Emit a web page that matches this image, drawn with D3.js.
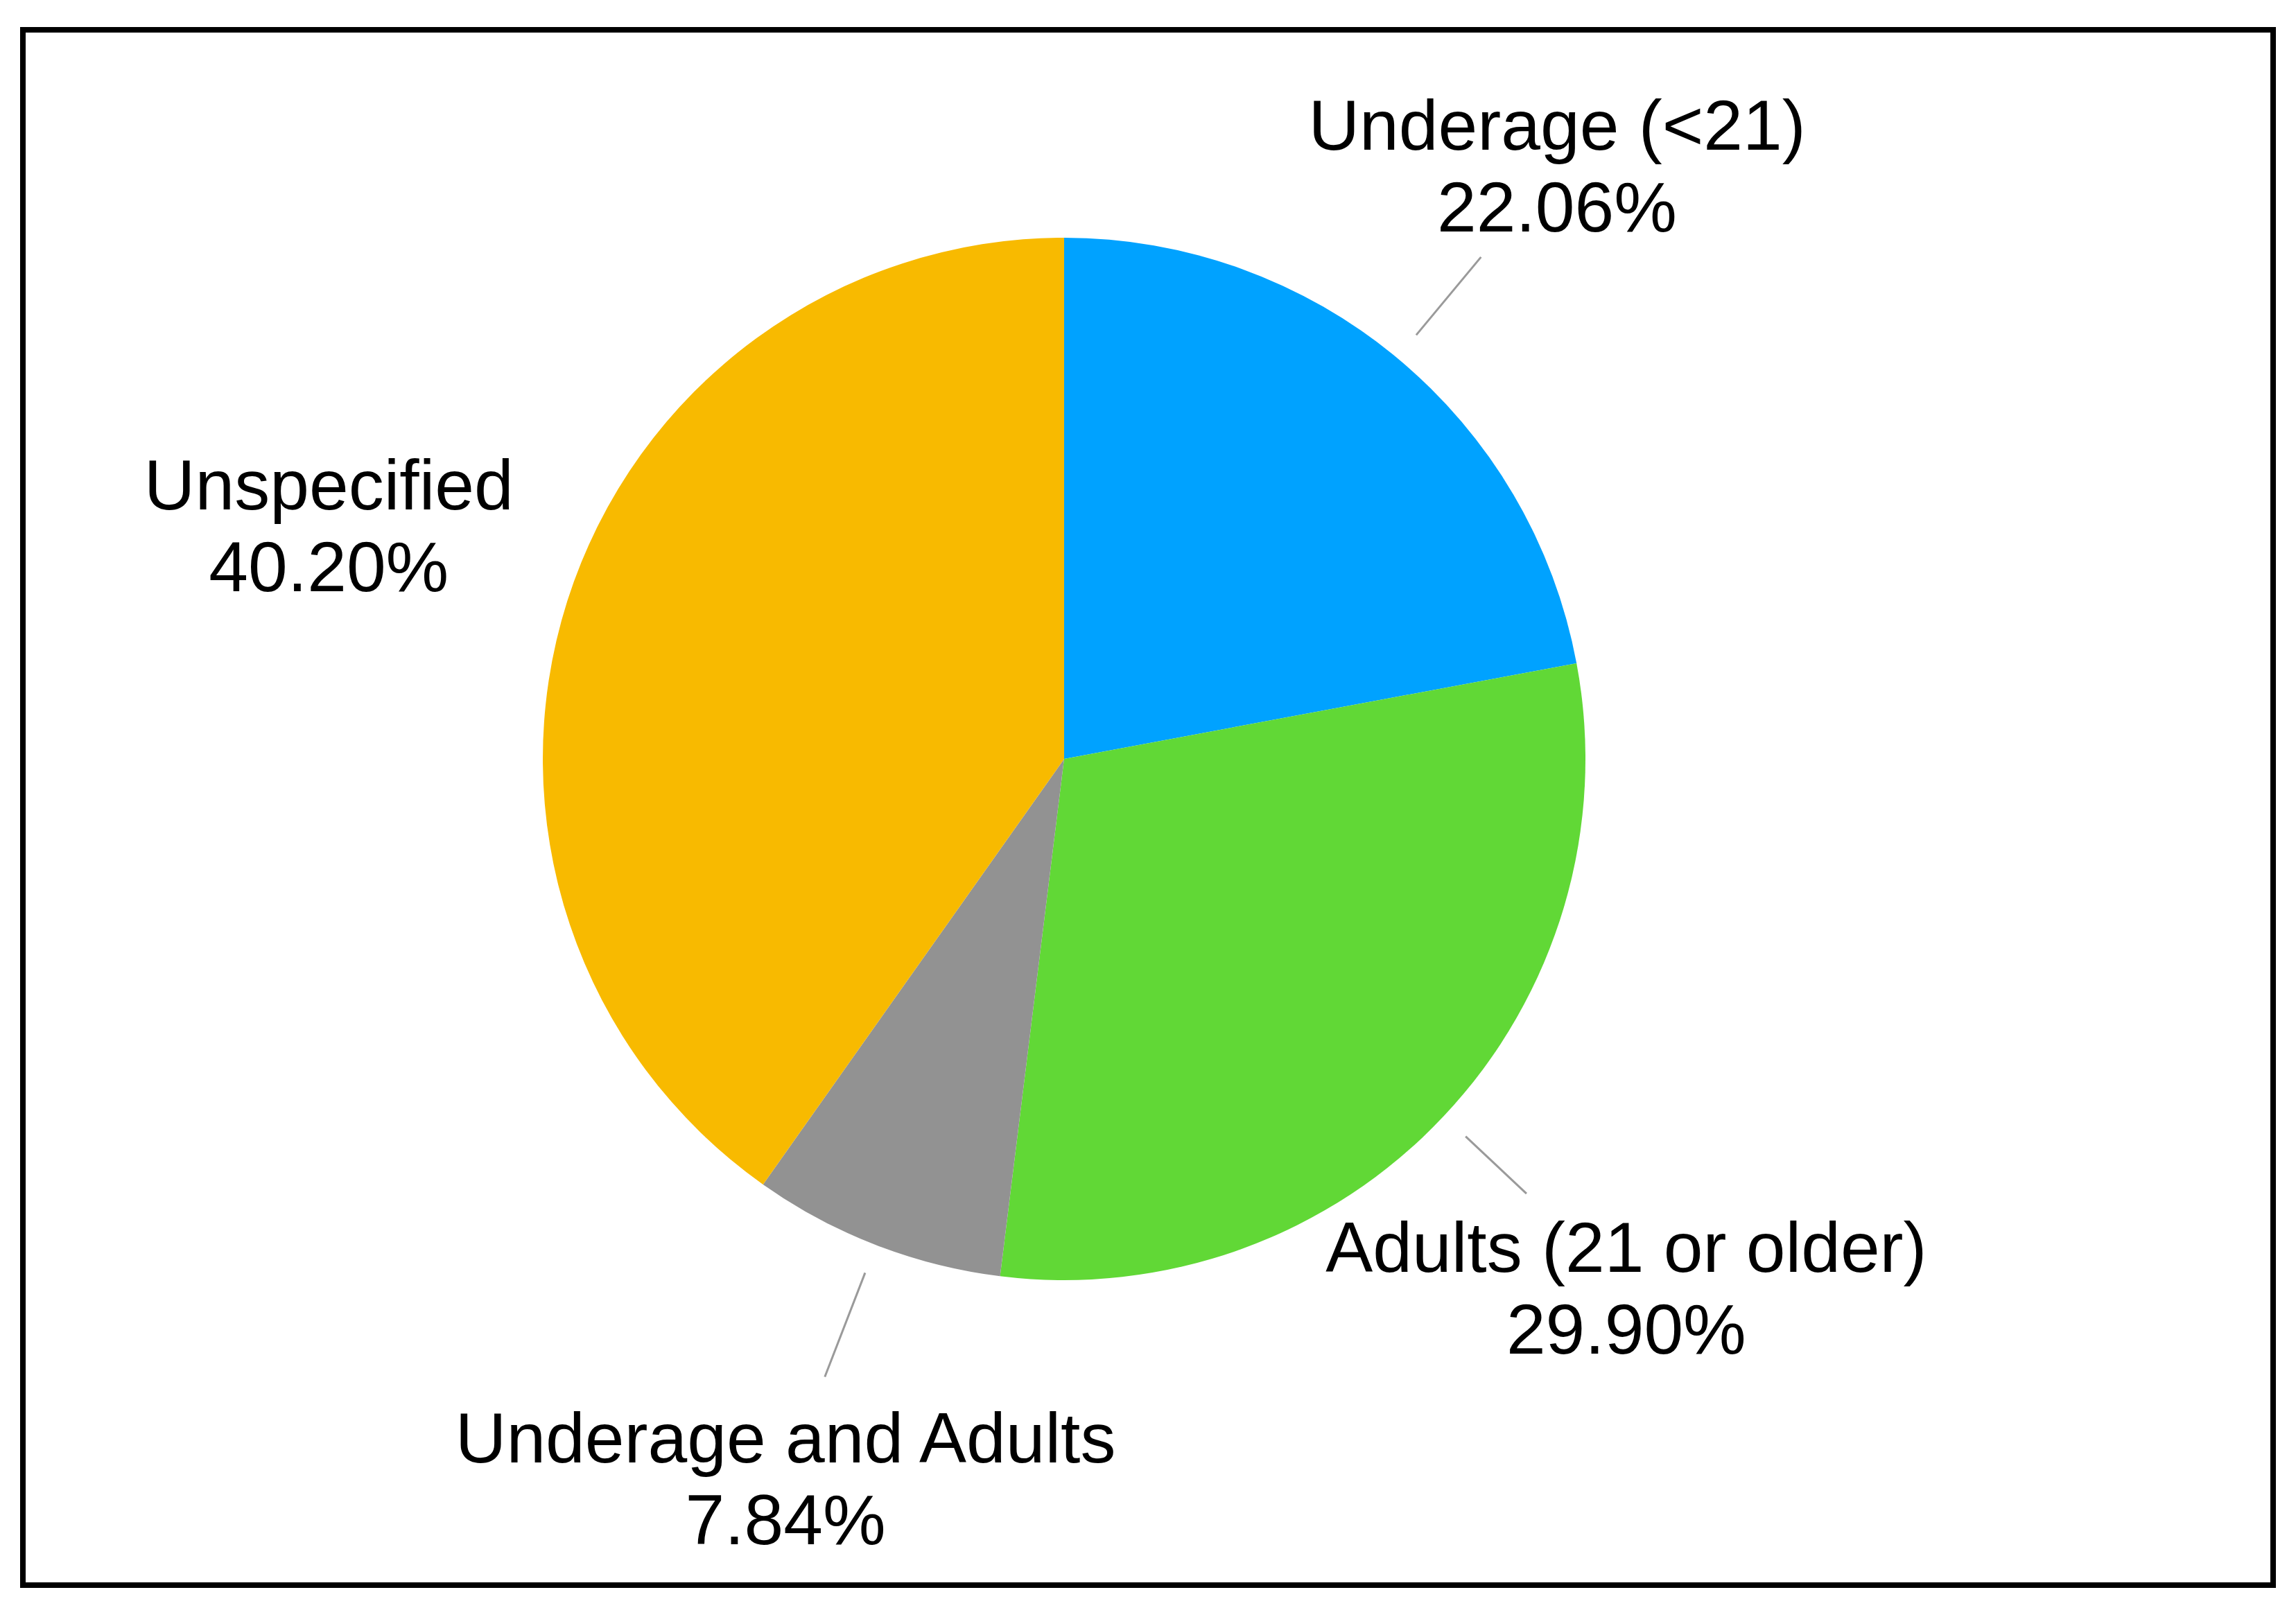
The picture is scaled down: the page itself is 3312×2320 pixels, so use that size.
<!DOCTYPE html>
<html>
<head>
<meta charset="utf-8">
<script src="https://cdn.jsdelivr.net/npm/d3@7"></script>
<style>
  html, body { margin: 0; padding: 0; background: #fff; }
  svg { display: block; }
</style>
</head>
<body>
<svg id="chart" width="3312" height="2320"></svg>
<script>
// slice data, clockwise from 12 o'clock
var categories = ["Underage (<21)", "Adults (21 or older)", "Underage and Adults", "Unspecified"];
var shares = [22.06, 29.90, 7.84, 40.20];
var valueLabels = ["22.06%", "29.90%", "7.84%", "40.20%"];
var colors = ["#00A2FF", "#61D836", "#929292", "#F8BA00"];

var iWidth = 3312, iHeight = 2320;
var cx = 1535, cy = 1095, r = 752;
var fLabelRadius = 1113, fLeaderStart = 795, fLeaderGap = 45;
var iFontSize = 102, iLineHeight = 118;

var svg = d3.select("#chart");

// frame
svg.append("rect")
	.attr("x", 33).attr("y", 43)
	.attr("width", 3246).attr("height", 2244)
	.attr("fill", "none")
	.attr("stroke", "#000")
	.attr("stroke-width", 8);

var aData = categories.map(function (c, i) {
	return { name: c, value: shares[i], label: valueLabels[i], color: colors[i] };
});

var pie = d3.pie().sort(null).value(function (d) { return d.value; });
var arc = d3.arc().innerRadius(0).outerRadius(r);
var arcs = pie(aData);

var g = svg.append("g").attr("transform", "translate(" + cx + "," + cy + ")");

g.selectAll("path.slice")
	.data(arcs)
	.enter().append("path")
	.attr("class", "slice")
	.attr("d", arc)
	.attr("fill", function (d) { return d.data.color; });

// labels, centred on the mid angle of each slice
var selLabels = g.selectAll("g.label")
	.data(arcs)
	.enter().append("g")
	.attr("class", "label");

selLabels.each(function (d) {
	var a = (d.startAngle + d.endAngle) / 2;
	var lx = Math.sin(a) * fLabelRadius;
	var ly = -Math.cos(a) * fLabelRadius;
	var capH = iFontSize * 0.716;
	// block spans cap top of line 1 to baseline of line 2
	var top = ly - (capH + iLineHeight) / 2;
	var t = d3.select(this).append("text")
		.attr("text-anchor", "middle")
		.attr("font-family", "'Liberation Sans', Arial, Helvetica, sans-serif")
		.attr("font-size", iFontSize)
		.attr("fill", "#000");
	t.append("tspan").attr("x", lx).attr("y", top + capH).text(d.data.name);
	t.append("tspan").attr("x", lx).attr("y", top + capH + iLineHeight).text(d.data.label);
});

// leader lines: from just outside the pie to a gap before the label box
selLabels.each(function (d) {
	var a = (d.startAngle + d.endAngle) / 2;
	var dx = Math.sin(a), dy = -Math.cos(a);
	var b = this.getBBox();
	var x0 = b.x, x1 = b.x + b.width, y0 = b.y + 10, y1 = b.y + b.height - 20;
	var tx = dx > 0 ? x0 / dx : x1 / dx;
	var ty = dy > 0 ? y0 / dy : y1 / dy;
	var tEnd = Math.max(tx, ty) - fLeaderGap;
	if (tEnd <= fLeaderStart) return;
	g.insert("line", "g.label")
		.attr("x1", dx * fLeaderStart).attr("y1", dy * fLeaderStart)
		.attr("x2", dx * tEnd).attr("y2", dy * tEnd)
		.attr("stroke", "#9a9a9a")
		.attr("stroke-width", 3);
});
</script>
</body>
</html>
